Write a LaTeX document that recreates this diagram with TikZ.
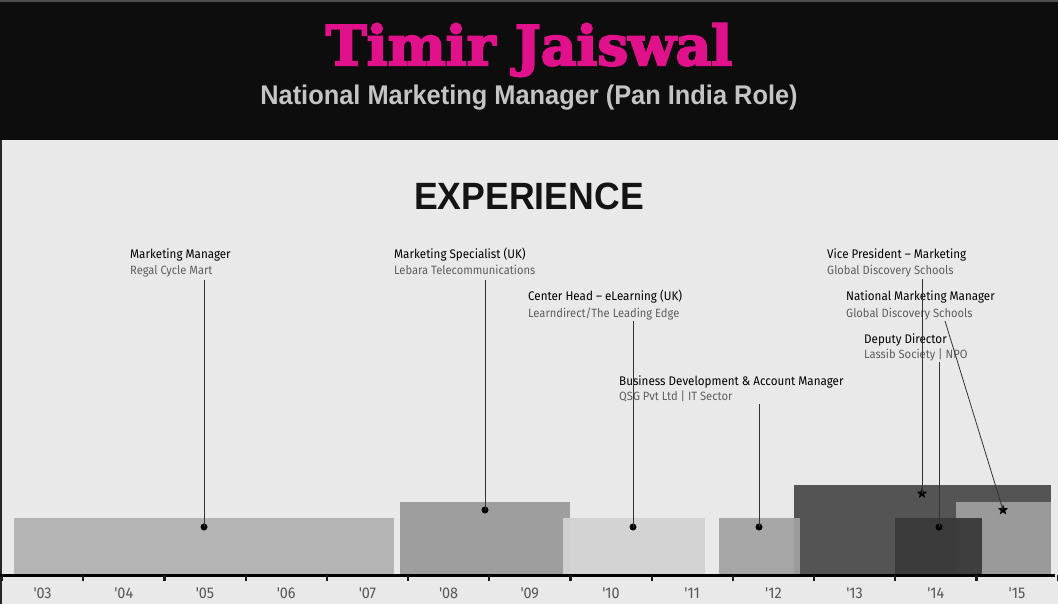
\documentclass[tikz,border=0pt]{standalone}
\usepackage{fontspec}
\usetikzlibrary{shapes.geometric}
\setmainfont{Liberation Sans}
\newfontfamily\titlefont[FakeBold=3.5]{DejaVu Serif}
\newfontfamily\headfont{Liberation Sans}
\newfontfamily\lblfont[FakeStretch=0.93]{Fira Sans}
\definecolor{hdrbg}{HTML}{0D0D0D}
\definecolor{bodybg}{HTML}{E9E9E9}
\definecolor{pinkname}{HTML}{E0118A}
\definecolor{subgray}{HTML}{C4C4C4}
\definecolor{lblsub}{HTML}{5E5E5E}
\definecolor{yeargray}{HTML}{555555}
\definecolor{barA}{HTML}{B4B4B4}
\definecolor{barB}{HTML}{9E9E9E}
\definecolor{barC}{HTML}{D2D2D2}
\definecolor{barD}{HTML}{A2A2A2}
\definecolor{barE}{HTML}{545454}
\definecolor{barF}{HTML}{3A3A3A}
\definecolor{barG}{HTML}{9A9A9A}
\tikzset{
  ltitle/.style={anchor=base west, inner sep=0pt, font=\lblfont\fontsize{12.5}{14}\selectfont, text=black},
  lsub/.style={anchor=base west, inner sep=0pt, font=\lblfont\fontsize{12}{14}\selectfont, text=lblsub},
  yearlbl/.style={inner sep=0pt, font=\lblfont\fontsize{15.5}{16}\selectfont, text=yeargray},
  conn/.style={draw=black!80, line width=0.8pt},
  dotm/.style={circle, fill=black, inner sep=0pt, minimum size=7pt},
  starm/.style={star, star points=5, star point ratio=2.4, fill=black, inner sep=0pt, minimum size=11pt},
  tick/.style={line width=2.2pt, draw=black!90}
}
\begin{document}
\begin{tikzpicture}[x=1pt,y=-1pt]
\useasboundingbox (0,0) rectangle (1058,604);
% backgrounds
\fill[bodybg] (0,140) rectangle (1058,604);
\fill[hdrbg] (0,0) rectangle (1058,140);
\fill[black!70] (0,0) rectangle (1058,2);
\fill[black!85] (0,140) rectangle (2,604);
% header
\node[inner sep=0pt, text=pinkname] (name) at (529,50)
  {\titlefont\bfseries\fontsize{55}{58}\selectfont Timir Jaiswal};
\node[inner sep=0pt, text=subgray] (role) at (529,98)
  {\scalebox{0.94}[1]{\headfont\bfseries\fontsize{27}{29}\selectfont National Marketing Manager (Pan India Role)}};
\node[inner sep=0pt, text=black!92] (exp) at (529,196)
  {\scalebox{0.937}[1]{\headfont\bfseries\fontsize{38}{40}\selectfont EXPERIENCE}};
% bars
\fill[barA] (14,518) rectangle (394,574);
\fill[barB] (400,502) rectangle (570,574);
\fill[barC, opacity=0.95] (563,518) rectangle (705,574);
\fill[barE] (794,485) rectangle (1051,574);
\fill[barD, opacity=0.92] (719,518) rectangle (800,574);
\fill[barG] (956,502) rectangle (1051,574);
\fill[barF, opacity=0.95] (895,518) rectangle (982,574);
% axis
\draw[line width=3pt, black] (0,575.5) -- (1055,575.5);
\foreach \k in {0,...,13} {
  \draw[tick] ({2+81.2*\k},575) -- ({2+81.2*\k},581);
}
\foreach \y [count=\k from 0] in {03,04,05,06,07,08,09,10,11,12,13,14,15} {
  \node[yearlbl] (yr\y) at ({42.6+81.2*\k},593) {'\y};
}
% labels
\node[ltitle] (t1) at (130,259) {Marketing Manager};
\node[lsub] (s1) at (130,275) {Regal Cycle Mart};
\node[ltitle] (t2) at (394,259) {Marketing Specialist (UK)};
\node[lsub] (s2) at (394,275) {Lebara Telecommunications};
\node[ltitle] (t3) at (528,301) {Center Head – eLearning (UK)};
\node[lsub] (s3) at (528,317) {Learndirect/The Leading Edge};
\node[ltitle] (t4) at (619,385) {Business Development \& Account Manager};
\node[lsub] (s4) at (619,400) {QSG Pvt Ltd | IT Sector};
\node[ltitle] (t5) at (827,259) {Vice President – Marketing};
\node[lsub] (s5) at (827,275) {Global Discovery Schools};
\node[ltitle] (t6) at (846,301) {National Marketing Manager};
\node[lsub] (s6) at (846,317) {Global Discovery Schools};
\node[ltitle] (t7) at (864,343) {Deputy Director};
\node[lsub] (s7) at (864,358) {Lassib Society | NPO};
% connector ends
\coordinate (c1) at (204,280);
\coordinate (c2) at (485,280);
\coordinate (c3) at (633,321);
\coordinate (c4) at (759,404);
\coordinate (c5) at (922,279);
\coordinate (c6) at (945,321);
\coordinate (c7) at (939,362);
\node[dotm] (d1) at (204,527) {};
\node[dotm] (d2) at (485,510) {};
\node[dotm] (d3) at (633,527) {};
\node[dotm] (d4) at (759,527) {};
\node[starm] (d5) at (922,493.5) {};
\node[starm] (d6) at (1003,510) {};
\node[dotm] (d7) at (939,527) {};
\draw[conn] (c1) -- (d1.center);
\draw[conn] (c2) -- (d2.center);
\draw[conn] (c3) -- (d3.center);
\draw[conn] (c4) -- (d4.center);
\draw[conn] (c5) -- (d5.center);
\draw[conn] (c6) -- (d6.center);
\draw[conn] (c7) -- (d7.center);
\end{tikzpicture}
\end{document}
